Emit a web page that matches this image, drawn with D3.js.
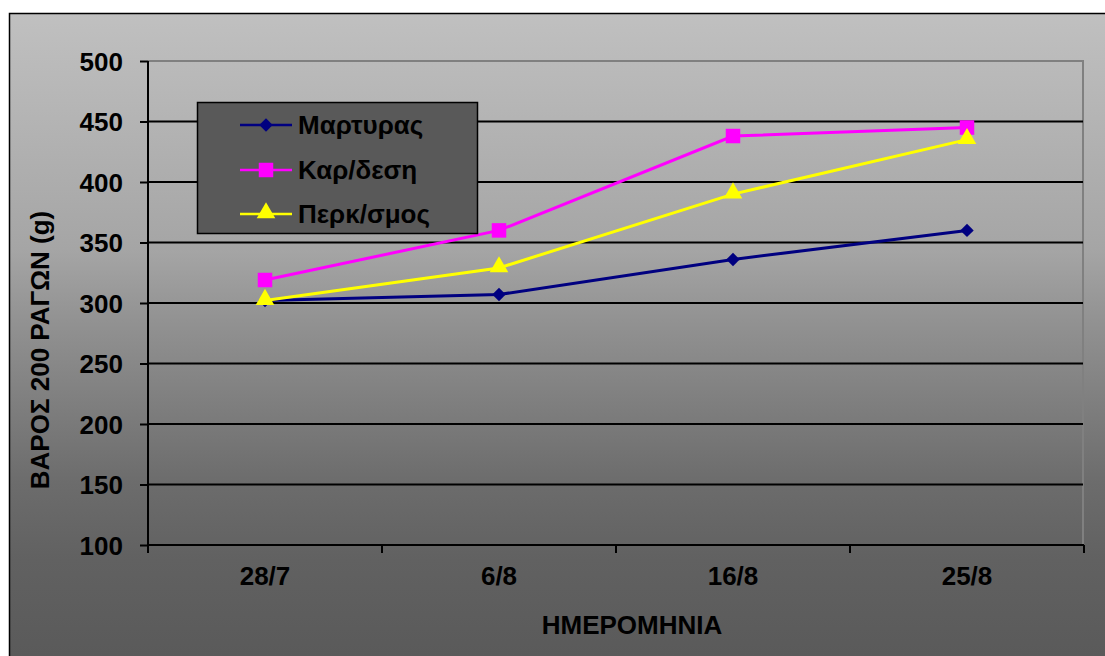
<!DOCTYPE html>
<html><head><meta charset="utf-8">
<script src="https://cdn.jsdelivr.net/npm/d3@7"></script>
<style>body{margin:0;background:#fff}svg{display:block}text{font-family:"Liberation Sans",Arial,sans-serif;font-weight:bold;fill:#000}</style>
</head><body><svg id="c" width="1105" height="656"></svg>
<script>
const categories = ["28/7","6/8","16/8","25/8"];
const seriesNames = ["Μαρτυρας","Καρ/δεση","Περκ/σμος"];
const martyras = [302, 307, 336, 360];
const karidesi = [319, 360, 438, 445];
const perksmos = [302, 329, 390, 435];
const yTicks = [100,150,200,250,300,350,400,450,500];
const colors = ["#000080","#ff00ff","#ffff00"];
const symbols = [d3.symbolSquare, d3.symbolSquare, d3.symbolTriangle];
const symRot = [45, 0, 0];
const seriesValues = [martyras, karidesi, perksmos];

const svg = d3.select("#c");
const W = 1105, H = 656;
const m = {left:148, right:1083, top:61, bottom:545};

const defs = svg.append("defs");
const g = defs.append("linearGradient").attr("id","bg").attr("gradientUnits","userSpaceOnUse")
  .attr("x1",0).attr("y1",13).attr("x2",0).attr("y2",656);
[[13,192],[250,165],[320,146],[483,108],[560,97],[656,90]].forEach(([y,v])=>{
  g.append("stop").attr("offset",(y-13)/(656-13)).attr("stop-color",d3.rgb(v,v,v));
});

// outer frame
svg.append("rect").attr("x",9.5).attr("y",13.5).attr("width",W).attr("height",H).attr("fill","url(#bg)").attr("stroke","#000").attr("stroke-width",1.5);

const x = d3.scaleBand().domain(categories).range([m.left, m.right+1]);
const y = d3.scaleLinear().domain([100,500]).range([m.bottom, m.top]);

// plot frame gray top/right
svg.append("path").attr("d",`M${m.left},${m.top}H${m.right}V${m.bottom}`).attr("fill","none").attr("stroke","#808080").attr("stroke-width",2);

// gridlines
svg.append("g").selectAll("line").data(yTicks.filter(t=>t>100&&t<500)).join("line")
  .attr("x1",m.left).attr("x2",m.right).attr("y1",d=>y(d)).attr("y2",d=>y(d))
  .attr("stroke","#000").attr("stroke-width",2);

// y axis
const ya = svg.append("g").attr("transform",`translate(${m.left},0)`)
  .call(d3.axisLeft(y).tickValues(yTicks).tickSize(8).tickPadding(17).tickFormat(d3.format("d")));
ya.select(".domain").attr("stroke","#000").attr("stroke-width",2).attr("d",`M0,${m.top}V${m.bottom+7}`);
ya.selectAll(".tick line").attr("stroke","#000").attr("stroke-width",2);
ya.selectAll(".tick text").attr("font-size",26).attr("font-family","Liberation Sans, Arial, sans-serif").attr("font-weight","bold").attr("fill","#000").attr("dy","0.36em");

// x axis
const xa = svg.append("g").attr("transform",`translate(0,${m.bottom})`)
  .call(d3.axisBottom(x).tickSize(0).tickPadding(22));
xa.select(".domain").attr("stroke","#000").attr("stroke-width",2).attr("d",`M${m.left},0H${m.right+1}`);
xa.selectAll(".tick text").attr("font-size",26).attr("font-family","Liberation Sans, Arial, sans-serif").attr("font-weight","bold").attr("fill","#000");
const bounds = categories.map(c=>x(c)).concat([x(categories[categories.length-1])+x.bandwidth()]);
svg.append("g").selectAll("line").data(bounds).join("line")
  .attr("x1",d=>d).attr("x2",d=>d).attr("y1",m.bottom).attr("y2",m.bottom+8)
  .attr("stroke","#000").attr("stroke-width",2);

// titles
svg.append("text").attr("x",632).attr("y",634).attr("text-anchor","middle").attr("font-size",26).text("ΗΜΕΡΟΜΗΝΙΑ");
svg.append("text").attr("transform","translate(49,350) rotate(-90)").attr("text-anchor","middle").attr("font-size",26).text("ΒΑΡΟΣ 200 ΡΑΓΩΝ (g)");

// series
const line = d3.line().x((d,i)=>x(categories[i])+x.bandwidth()/2).y(d=>y(d));
const symSize = [90, 210, 150];
seriesValues.forEach((vals,si)=>{
  const gs = svg.append("g");
  gs.append("path").attr("d",line(vals)).attr("fill","none").attr("stroke",colors[si]).attr("stroke-width",3);
  gs.selectAll("path.mk").data(vals).join("path").attr("class","mk")
    .attr("transform",(d,i)=>`translate(${x(categories[i])+x.bandwidth()/2},${y(d)+(si===2?-1:0)}) rotate(${symRot[si]})`)
    .attr("d",d3.symbol().type(symbols[si]).size(symSize[si]))
    .attr("fill",colors[si]);
});

// legend
const lg = svg.append("g");
lg.append("rect").attr("x",197.5).attr("y",102.5).attr("width",280).attr("height",131).attr("fill","#595959").attr("stroke","#000").attr("stroke-width",1.5);
const rowsY = [125, 170, 214];
seriesNames.forEach((nm,i)=>{
  lg.append("line").attr("x1",240).attr("x2",292).attr("y1",rowsY[i]).attr("y2",rowsY[i]).attr("stroke",colors[i]).attr("stroke-width",2.5);
  lg.append("path").attr("transform",`translate(266,${rowsY[i]+(i===2?-1:0)}) rotate(${symRot[i]})`).attr("d",d3.symbol().type(symbols[i]).size(symSize[i])).attr("fill",colors[i]);
  lg.append("text").attr("x",298).attr("y",rowsY[i]).attr("dy","0.36em").attr("font-size",26).text(nm);
});
</script></body></html>
